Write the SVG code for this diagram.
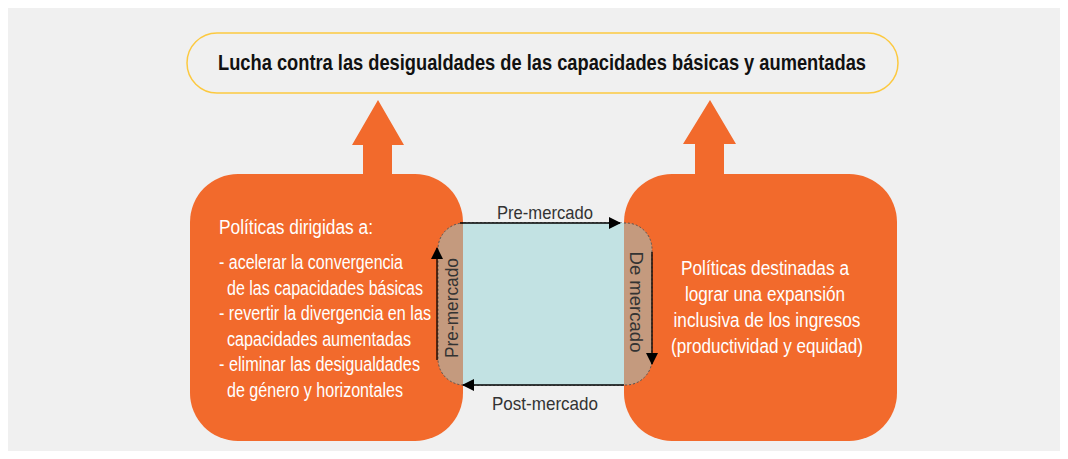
<svg xmlns="http://www.w3.org/2000/svg" width="1068" height="459" viewBox="0 0 1068 459">
<style>
.box{fill:#f26a2c}
.w{fill:#ffffff;font-family:"Liberation Sans",Arial,sans-serif;font-size:20px}
.lbl{fill:#333333;font-family:"Liberation Sans",Arial,sans-serif;font-size:19px}
.ln{stroke:#000;stroke-width:1.3;fill:none}
</style>
<defs>
<marker id="ah" markerWidth="12" markerHeight="12" refX="11" refY="6" orient="auto" markerUnits="userSpaceOnUse">
<path d="M0,0 L12,6 L0,12 Z" fill="#000"/>
</marker>
</defs>
<rect x="0" y="0" width="1068" height="459" fill="#ffffff"/>
<rect x="8" y="8" width="1052" height="443" fill="#f0f0f0"/>

<g id="goal">
<rect x="187" y="33" width="711" height="60" rx="30" fill="#f0f0f0" stroke="#fcc940" stroke-width="1.5"/>
<text x="542" y="70" text-anchor="middle" font-family="'Liberation Sans',Arial,sans-serif" font-weight="bold" font-size="22" fill="#111" textLength="648" lengthAdjust="spacingAndGlyphs">Lucha contra las desigualdades de las capacidades básicas y aumentadas</text>
</g>

<g id="arrow-left">
<path class="box" d="M378,100 L404,145 L392,145 L392,176 L363,176 L363,145 L352,145 Z"/>
</g>
<g id="arrow-right">
<path class="box" d="M710,100 L736,144 L724,144 L724,176 L695,176 L695,144 L683,144 Z"/>
</g>

<g id="left-box">
<rect class="box" x="190" y="174" width="273" height="267" rx="48"/>
<text class="w" x="219" y="234" textLength="154" lengthAdjust="spacingAndGlyphs">Políticas dirigidas a:</text>
<text class="w" x="219" y="269" textLength="184" lengthAdjust="spacingAndGlyphs">- acelerar la convergencia</text>
<text class="w" x="227" y="295" textLength="196" lengthAdjust="spacingAndGlyphs">de las capacidades básicas</text>
<text class="w" x="219" y="320" textLength="212" lengthAdjust="spacingAndGlyphs">- revertir la divergencia en las</text>
<text class="w" x="227" y="346" textLength="184" lengthAdjust="spacingAndGlyphs">capacidades aumentadas</text>
<text class="w" x="219" y="371" textLength="201" lengthAdjust="spacingAndGlyphs">- eliminar las desigualdades</text>
<text class="w" x="227" y="397" textLength="176" lengthAdjust="spacingAndGlyphs">de género y horizontales</text>
</g>

<g id="right-box">
<rect class="box" x="624" y="174" width="273" height="267" rx="48"/>
<text class="w" x="765" y="275" text-anchor="middle" textLength="168" lengthAdjust="spacingAndGlyphs">Políticas destinadas a</text>
<text class="w" x="765" y="301" text-anchor="middle" textLength="160" lengthAdjust="spacingAndGlyphs">lograr una expansión</text>
<text class="w" x="767" y="327" text-anchor="middle" textLength="187" lengthAdjust="spacingAndGlyphs">inclusiva de los ingresos</text>
<text class="w" x="767" y="353" text-anchor="middle" textLength="192" lengthAdjust="spacingAndGlyphs">(productividad y equidad)</text>
</g>

<g id="market-cycle">
<rect x="438" y="223" width="214" height="162" rx="26" fill="#c49a7e" stroke="#555" stroke-width="1" stroke-dasharray="2,2"/>
<rect x="463" y="223" width="161" height="162" fill="#c2e2e3"/>
<text class="lbl" transform="translate(458,308) rotate(-90)" text-anchor="middle" textLength="100" lengthAdjust="spacingAndGlyphs">Pre-mercado</text>
<text class="lbl" transform="translate(630,302) rotate(90)" text-anchor="middle" textLength="101" lengthAdjust="spacingAndGlyphs">De mercado</text>
</g>

<g id="connectors">
<line class="ln" x1="460" y1="223" x2="620" y2="223" marker-end="url(#ah)"/>
<line class="ln" x1="624" y1="385" x2="463" y2="385" marker-end="url(#ah)"/>
<line class="ln" x1="437" y1="360" x2="437" y2="248" marker-end="url(#ah)"/>
<line class="ln" x1="652" y1="252" x2="652" y2="364" marker-end="url(#ah)"/>
<text class="lbl" x="545" y="219" text-anchor="middle" textLength="96" lengthAdjust="spacingAndGlyphs">Pre-mercado</text>
<text class="lbl" x="545" y="410" text-anchor="middle" textLength="106" lengthAdjust="spacingAndGlyphs">Post-mercado</text>
</g>
</svg>
